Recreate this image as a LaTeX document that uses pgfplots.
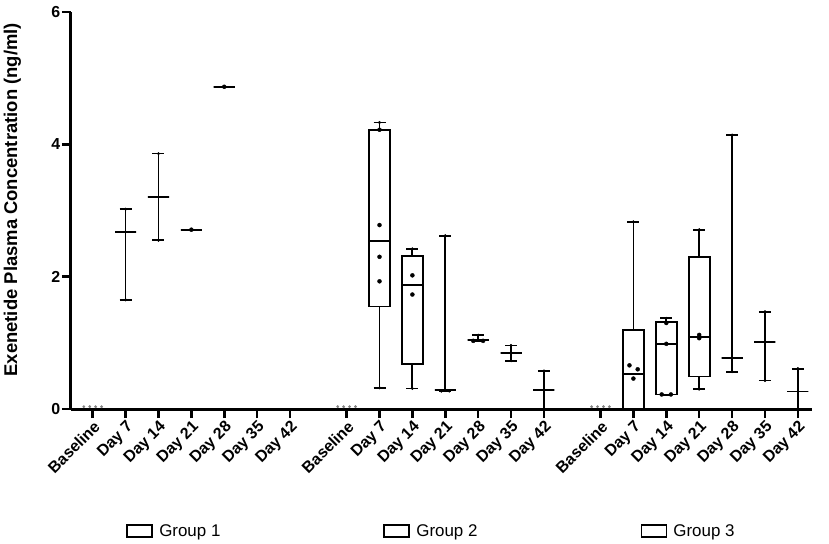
\documentclass[border=0pt]{standalone}
\usepackage{fontspec}
\setmainfont{Liberation Sans}
\usepackage{pgfplots}
\pgfplotsset{compat=1.18}
\usepgfplotslibrary{statistics}
\begin{document}
\begin{tikzpicture}
\begin{axis}[
  at={(0,0)}, anchor=south west,
  scale only axis, width=741bp, height=397bp,
  xmin=-0.66, xmax=21.87, ymin=0, ymax=6,
  clip=false,
  axis x line*=bottom, axis y line*=left,
  axis line style={line width=3bp, black},
  tick align=outside, major tick length=9bp,
  tick style={line width=2.6bp, black},
  ytick={0,2,4,6},
  /pgf/number format/assume math mode=true,
  yticklabel style={font=\bfseries\fontsize{16}{18}\selectfont, inner sep=1.5bp},
  xtick={0,1,2,3,4,5,6,7.72,8.72,9.72,10.72,11.72,12.72,13.72,15.44,16.44,17.44,18.44,19.44,20.44,21.44},
  xticklabels={Baseline,Day 7,Day 14,Day 21,Day 28,Day 35,Day 42,Baseline,Day 7,Day 14,Day 21,Day 28,Day 35,Day 42,Baseline,Day 7,Day 14,Day 21,Day 28,Day 35,Day 42},
  xticklabel style={font=\bfseries\fontsize{16}{18}\selectfont, rotate=45, anchor=north east, inner sep=1bp},
  ylabel={Exenetide Plasma Concentration (ng/ml)},
  ylabel style={font=\bfseries\fontsize{18.5}{20}\selectfont, at={(axis description cs:-0.079,0.527)}, anchor=center},
  boxplot/draw direction=y,
  boxplot/box extend=0.64, boxplot/whisker extend=0.365,
  legend columns=3,
  legend style={at={(axis description cs:0.4865,-0.307)}, anchor=center, draw=none, fill=none,
    font=\fontsize{17}{20}\selectfont,
    /tikz/every even column/.append style={column sep=161bp}},
  legend image code/.code={\draw[black, line width=1.8bp] (0bp,-6bp) rectangle (25bp,6bp); \path[draw=none, fill=none] (0bp,0bp) -- (30bp,0bp);},
]
\addlegendimage{black}\addlegendentry{Group 1}
\addlegendimage{black}\addlegendentry{Group 2}
\addlegendimage{black}\addlegendentry{Group 3}

% ---------- Group 1 ----------
\addplot[forget plot, black, line width=1.8bp, boxplot prepared={draw position=1, lower whisker=1.65, lower quartile=2.67, median=2.67, upper quartile=2.67, upper whisker=3.02}] coordinates {};
\addplot[forget plot, black, line width=1.8bp, boxplot prepared={draw position=2, lower whisker=2.55, lower quartile=3.21, median=3.21, upper quartile=3.21, upper whisker=3.86}] coordinates {};
\addplot[forget plot, black, line width=1.8bp, boxplot prepared={draw position=3, lower whisker=2.71, lower quartile=2.71, median=2.71, upper quartile=2.71, upper whisker=2.71}] coordinates {};
\addplot[forget plot, black, line width=1.8bp, boxplot prepared={draw position=4, lower whisker=4.87, lower quartile=4.87, median=4.87, upper quartile=4.87, upper whisker=4.87}] coordinates {};

% ---------- Group 2 ----------
\addplot[forget plot, black, line width=1.8bp, boxplot prepared={draw position=8.72, lower whisker=0.32, lower quartile=1.55, median=2.54, upper quartile=4.22, upper whisker=4.33}] coordinates {};
\addplot[forget plot, black, line width=1.8bp, boxplot prepared={draw position=9.72, lower whisker=0.31, lower quartile=0.68, median=1.88, upper quartile=2.31, upper whisker=2.42}] coordinates {};
\addplot[forget plot, black, line width=1.8bp, boxplot prepared={draw position=10.72, lower whisker=0.27, lower quartile=0.29, median=0.29, upper quartile=0.29, upper whisker=2.62}] coordinates {};
\addplot[forget plot, black, line width=1.8bp, boxplot prepared={draw position=11.72, lower whisker=1.03, lower quartile=1.04, median=1.04, upper quartile=1.04, upper whisker=1.115}] coordinates {};
\addplot[forget plot, black, line width=1.8bp, boxplot prepared={draw position=12.72, lower whisker=0.73, lower quartile=0.85, median=0.85, upper quartile=0.85, upper whisker=0.96}] coordinates {};
\addplot[forget plot, black, line width=1.8bp, boxplot prepared={draw position=13.72, lower whisker=0, lower quartile=0.29, median=0.29, upper quartile=0.29, upper whisker=0.575}] coordinates {};

% ---------- Group 3 ----------
\addplot[forget plot, black, line width=1.8bp, boxplot prepared={draw position=16.44, lower whisker=0, lower quartile=0, median=0.53, upper quartile=1.19, upper whisker=2.83}] coordinates {};
\addplot[forget plot, black, line width=1.8bp, boxplot prepared={draw position=17.44, lower whisker=0.21, lower quartile=0.22, median=0.985, upper quartile=1.32, upper whisker=1.37}] coordinates {};
\addplot[forget plot, black, line width=1.8bp, boxplot prepared={draw position=18.44, lower whisker=0.30, lower quartile=0.49, median=1.085, upper quartile=2.30, upper whisker=2.71}] coordinates {};
\addplot[forget plot, black, line width=1.8bp, boxplot prepared={draw position=19.44, lower whisker=0.565, lower quartile=0.77, median=0.77, upper quartile=0.77, upper whisker=4.14}] coordinates {};
\addplot[forget plot, black, line width=1.8bp, boxplot prepared={draw position=20.44, lower whisker=0.43, lower quartile=1.015, median=1.015, upper quartile=1.015, upper whisker=1.47}] coordinates {};
\addplot[forget plot, black, line width=1.8bp, boxplot prepared={draw position=21.44, lower whisker=0, lower quartile=0.265, median=0.265, upper quartile=0.265, upper whisker=0.61}] coordinates {};

% ---------- individual points ----------
\addplot[forget plot, only marks, mark=*, mark size=2bp, black] coordinates {
 (3,2.71) (4,4.87)
 (8.72,4.22) (8.72,2.78) (8.72,2.30) (8.72,1.93)
 (9.72,2.02) (9.72,1.73)
 (11.57,1.03) (11.87,1.03)
 (16.32,0.66) (16.57,0.60) (16.44,0.46)
 (17.44,1.30) (17.44,0.985) (17.3,0.22) (17.58,0.22)
 (18.44,1.12) (18.44,1.07)
};
\addplot[forget plot, only marks, mark=*, mark size=1.3bp, black] coordinates {
 (1,1.65) (1,3.02) (2,2.55) (2,3.86)
 (8.72,4.33) (8.72,0.32) (9.72,2.42) (9.72,0.31)
 (10.72,2.62) (10.6,0.27) (10.84,0.27)
 (11.72,1.115) (12.72,0.96) (12.72,0.73) (13.72,0.575)
 (16.44,2.83) (17.44,1.37) (18.44,2.71) (18.44,0.30)
 (19.44,4.14) (19.44,0.565) (20.44,1.47) (20.44,0.43) (21.44,0.61)
};
\addplot[forget plot, only marks, mark=*, mark size=1.2bp, black!50] coordinates {
 (-0.27,0.035) (-0.09,0.035) (0.09,0.035) (0.27,0.035)
 (7.45,0.035) (7.63,0.035) (7.81,0.035) (7.99,0.035)
 (15.17,0.035) (15.35,0.035) (15.53,0.035) (15.71,0.035)
};
\end{axis}
\pgfresetboundingbox
\useasboundingbox (-71bp,-135bp) rectangle (758bp,409bp);
\end{tikzpicture}
\end{document}
